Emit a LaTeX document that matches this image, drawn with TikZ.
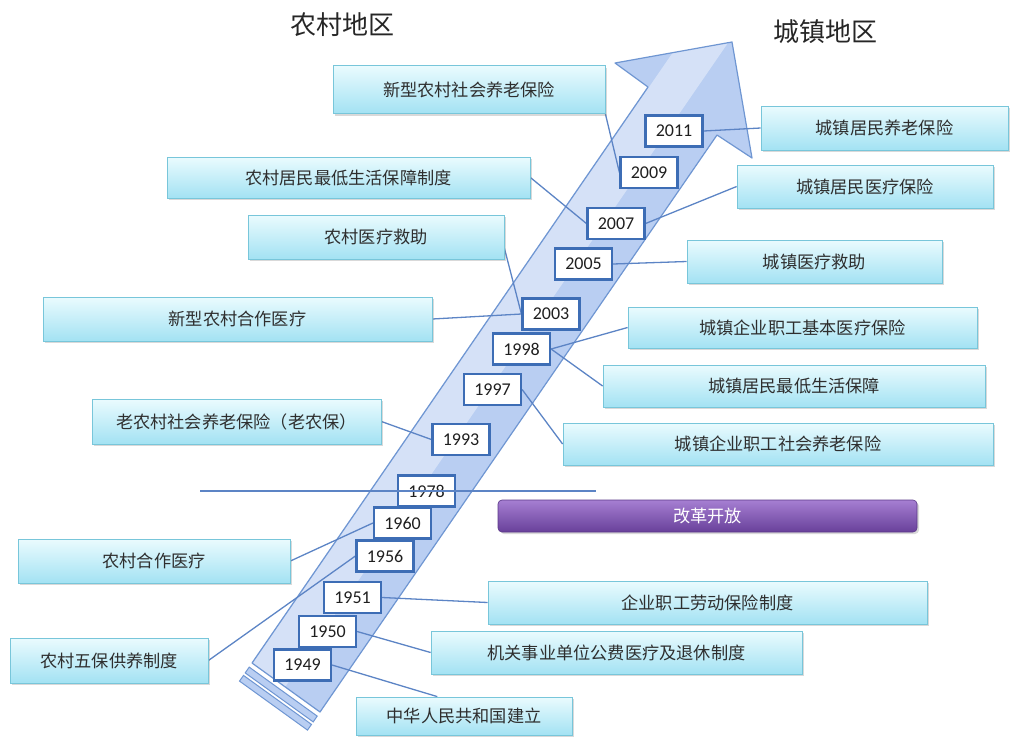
\documentclass[tikz,border=0pt]{standalone}
\usepackage{fontspec}
\newfontfamily\cjk{Noto Sans CJK SC}
\newfontfamily\yr{Carlito}
\usetikzlibrary{shadows}
\definecolor{arrowfill}{HTML}{B9CEF2}
\definecolor{arrowedge}{HTML}{6F96D2}
\definecolor{boxtop}{HTML}{EAFBFE}
\definecolor{boxbot}{HTML}{A3E2F3}
\definecolor{boxedge}{HTML}{78C6DA}
\definecolor{yearblue}{HTML}{3D6DB5}
\definecolor{linec}{HTML}{5C84C5}
\definecolor{txt}{HTML}{2E2E2E}
\definecolor{purtop}{HTML}{A67FD2}
\definecolor{purbot}{HTML}{68409A}
\definecolor{puredge}{HTML}{5B3888}
\pgfdeclarelayer{arrowl}
\pgfdeclarelayer{lines}
\pgfsetlayers{arrowl,lines,main}
\begin{document}
\begin{tikzpicture}[x=1pt,y=-1pt,
  lbox/.style={draw=boxedge, line width=0.8pt, top color=boxtop, bottom color=boxbot,
    drop shadow={shadow xshift=2pt, shadow yshift=-2pt, opacity=0.3},
    inner sep=0pt, font=\cjk\fontsize{17.2}{19}\selectfont, text=txt},
  ybox/.style={draw=yearblue, line width=2.2pt, fill=white, minimum width=57pt,
    minimum height=31pt, inner sep=0pt, font=\yr\fontsize{18}{20}\selectfont, text=black!88},
  conn/.style={draw=linec, line width=1.3pt},
  pbar/.style={draw=puredge, line width=0.6pt, rounded corners=4pt, top color=purtop,
    bottom color=purbot, drop shadow={shadow xshift=2pt, shadow yshift=-2pt, opacity=0.3},
    inner sep=0pt, font=\cjk\fontsize{17.2}{19}\selectfont, text=white},
  ttl/.style={font=\cjk\fontsize{26}{28}\selectfont, text=black!85}
]
\useasboundingbox (0,0) rectangle (1011,736);

% ---------- big arrow ----------
\coordinate (BL) at (252,663);
\coordinate (LN) at (648,87);
\coordinate (LW) at (615,63);
\coordinate (T)  at (732,42);
\coordinate (RW) at (752,158);
\coordinate (RN) at (717,135);
\coordinate (BR) at (320,712);
\coordinate (HA) at (268.7,675.6);
\coordinate (HB) at (721.9,16.4);
\begin{pgfonlayer}{arrowl}
  \fill[arrowfill] (BL) -- (LN) -- (LW) -- (T) -- (RW) -- (RN) -- (BR) -- cycle;
  \begin{scope}
    \clip (BL) -- (LN) -- (LW) -- (T) -- (RW) -- (RN) -- (BR) -- cycle;
    \draw[white, opacity=0.4, line width=40pt] (HA) -- (HB);
  \end{scope}
  \draw[arrowedge, line width=1.2pt, line join=round] (BL) -- (LN) -- (LW) -- (T) -- (RW) -- (RN) -- (BR) -- cycle;
  \filldraw[fill=arrowfill, draw=arrowedge, line width=1pt] (249.2,667.1) -- (317.2,716.1) -- (313.2,721.9) -- (245.2,672.9) -- cycle;
  \filldraw[fill=arrowfill, draw=arrowedge, line width=1pt] (243.5,675.4) -- (311.5,724.4) -- (307.5,730.1) -- (239.5,681.1) -- cycle;
\end{pgfonlayer}

% ---------- titles ----------
\node[ttl] (t1) at (342,25) {农村地区};
\node[ttl] (t2) at (825,32) {城镇地区};

% ---------- left boxes ----------
\node[lbox, minimum width=272pt, minimum height=48pt] (l1) at (469,89.5) {新型农村社会养老保险};
\node[lbox, minimum width=363pt, minimum height=41pt] (l2) at (348.5,177.5) {农村居民最低生活保障制度};
\node[lbox, minimum width=256pt, minimum height=44pt] (l3) at (376,237) {农村医疗救助};
\node[lbox, minimum width=389pt, minimum height=44pt] (l4) at (237.5,319) {新型农村合作医疗};
\node[lbox, minimum width=289pt, minimum height=45pt] (l5) at (236.5,421.5) {老农村社会养老保险（老农保）};
\node[lbox, minimum width=272pt, minimum height=44pt] (l6) at (154,561) {农村合作医疗};
\node[lbox, minimum width=198pt, minimum height=45pt] (l7) at (109,660.5) {农村五保供养制度};

% ---------- right boxes ----------
\node[lbox, minimum width=247pt, minimum height=44pt] (r1) at (884.5,128) {城镇居民养老保险};
\node[lbox, minimum width=256pt, minimum height=43pt] (r2) at (865,186.5) {城镇居民医疗保险};
\node[lbox, minimum width=255pt, minimum height=43pt] (r3) at (814.5,261.5) {城镇医疗救助};
\node[lbox, minimum width=349pt, minimum height=41pt] (r4) at (802.5,327.5) {城镇企业职工基本医疗保险};
\node[lbox, minimum width=382pt, minimum height=42pt] (r5) at (794,386) {城镇居民最低生活保障};
\node[lbox, minimum width=430pt, minimum height=42pt] (r6) at (778,444) {城镇企业职工社会养老保险};
\node[pbar, minimum width=419pt, minimum height=32pt] (ref) at (707.5,516) {改革开放};
\node[lbox, minimum width=439pt, minimum height=43pt] (b1) at (707.5,602.5) {企业职工劳动保险制度};
\node[lbox, minimum width=371pt, minimum height=43pt] (b2) at (616.5,652.5) {机关事业单位公费医疗及退休制度};
\node[lbox, minimum width=216pt, minimum height=38pt] (b3) at (464,716) {中华人民共和国建立};

% ---------- year boxes ----------
\node[ybox] (y2011) at (674,131) {2011};
\node[ybox] (y2009) at (649,172.5) {2009};
\node[ybox] (y2007) at (616,223.5) {2007};
\node[ybox] (y2005) at (583.5,264) {2005};
\node[ybox] (y2003) at (551,314) {2003};
\node[ybox] (y1998) at (521.5,349) {1998};
\node[ybox] (y1997) at (492.5,389.5) {1997};
\node[ybox] (y1993) at (461,439.5) {1993};
\node[ybox] (y1978) at (426.5,491) {1978};
\node[ybox] (y1960) at (402.5,523) {1960};
\node[ybox] (y1956) at (385,556) {1956};
\node[ybox] (y1951) at (352.5,597.5) {1951};
\node[ybox] (y1950) at (327.5,631.5) {1950};
\node[ybox] (y1949) at (302.5,665) {1949};

% ---------- connectors ----------
\begin{pgfonlayer}{lines}
  \draw[conn] (l1.south east) -- (y2009.west);
  \draw[conn] (l2.east) -- (y2007.west);
  \draw[conn] (l3.-5) -- (y2003.west);
  \draw[conn] (l4.east) -- (y2003.west);
  \draw[conn] (l5.east) -- (y1993.west);
  \draw[conn] (l6.east) -- (y1960.west);
  \draw[conn] (l7.east) -- (y1956.west);
  \draw[conn] (y2011.east) -- (r1.west);
  \draw[conn] (y2007.east) -- (r2.west);
  \draw[conn] (y2005.east) -- (r3.west);
  \draw[conn] (y1998.east) -- (r4.west);
  \draw[conn] (y1998.east) -- (r5.west);
  \draw[conn] (y1997.east) -- (r6.west);
  \draw[conn] (y1951.east) -- (b1.west);
  \draw[conn] (y1950.east) -- (b2.west);
  \draw[conn] (y1949.east) -- (b3.144);
\end{pgfonlayer}

% ---------- reform line ----------
\coordinate (hl1) at (200,491);
\coordinate (hl2) at (596,491);
\draw[conn] (hl1) -- (hl2);
\end{tikzpicture}
\end{document}
